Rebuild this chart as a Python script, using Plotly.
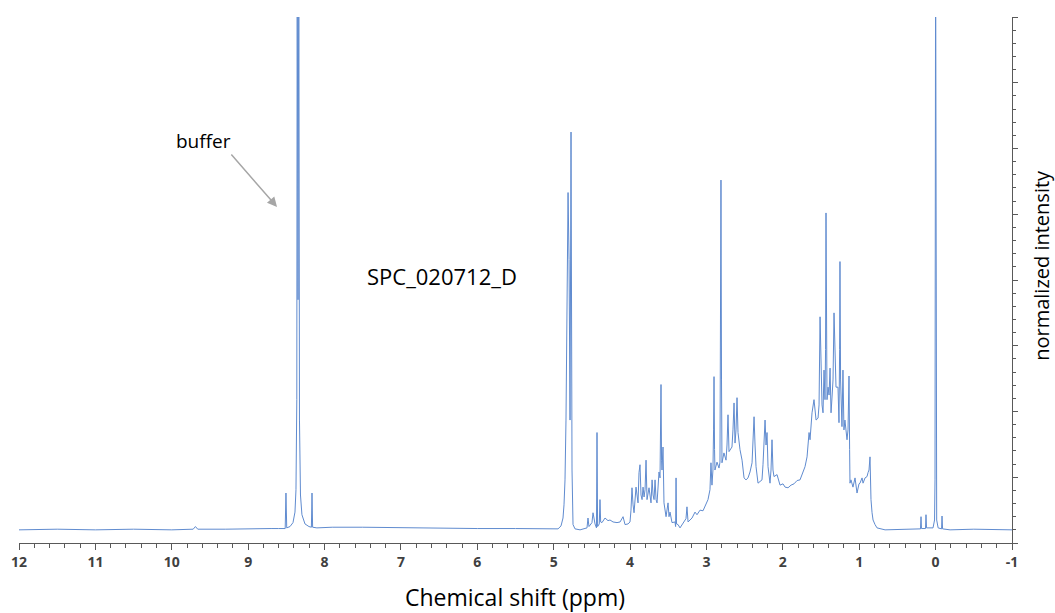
import plotly.graph_objects as go

ppm = [
    12.0, 11.5, 11.0, 10.5, 10.0, 9.72, 9.69, 9.66, 9.3, 9.0, 8.7, 8.6,
    8.531, 8.515, 8.505, 8.495, 8.452, 8.413, 8.387, 8.374, 8.363, 8.358, 8.347, 8.337,
    8.328, 8.315, 8.296, 8.256, 8.204, 8.172, 8.164, 8.156,
    8.1, 7.9, 7.5, 7.0, 6.5, 6.0, 5.5, 5.0,
    4.943, 4.904, 4.878, 4.865, 4.852, 4.839, 4.826, 4.812, 4.799, 4.786, 4.773, 4.760,
    4.747, 4.721,
    4.655, 4.564, 4.551, 4.538, 4.499, 4.485, 4.459, 4.440, 4.433, 4.425, 4.403, 4.394,
    4.385, 4.368, 4.328, 4.289, 4.263, 4.223, 4.171, 4.131, 4.092, 4.066, 4.027, 4.001,
    3.988, 3.975, 3.961, 3.948, 3.922, 3.909, 3.896, 3.883, 3.870, 3.857, 3.843, 3.830,
    3.817, 3.804, 3.791, 3.778, 3.752, 3.726, 3.712, 3.699, 3.686, 3.673, 3.660, 3.647,
    3.621, 3.608, 3.600, 3.595, 3.588, 3.582, 3.569, 3.561, 3.556, 3.529, 3.503, 3.490,
    3.477, 3.451, 3.412, 3.404, 3.398, 3.392, 3.372, 3.346, 3.307, 3.268, 3.255, 3.241,
    3.189, 3.150, 3.124, 3.084, 3.045, 3.019, 2.980, 2.954, 2.941, 2.928, 2.915, 2.907,
    2.901, 2.894, 2.889, 2.862, 2.836, 2.823, 2.815, 2.810, 2.803, 2.797, 2.771, 2.744,
    2.731, 2.718, 2.705, 2.692, 2.666, 2.653, 2.639, 2.626, 2.613, 2.600, 2.587, 2.561,
    2.534, 2.508, 2.482, 2.456, 2.430, 2.403, 2.390, 2.377, 2.364, 2.351, 2.325, 2.299,
    2.273, 2.260, 2.247, 2.233, 2.220, 2.207, 2.194, 2.168, 2.155, 2.142, 2.129, 2.116,
    2.076, 2.037, 1.998, 1.971, 1.932, 1.893, 1.854, 1.814, 1.775, 1.736, 1.710, 1.683,
    1.657, 1.644, 1.618, 1.592, 1.579, 1.565, 1.539, 1.526, 1.513, 1.500, 1.487, 1.474,
    1.461, 1.448, 1.441, 1.435, 1.427, 1.422, 1.408, 1.395, 1.382, 1.369, 1.356, 1.343,
    1.330, 1.317, 1.304, 1.278, 1.265, 1.257, 1.252, 1.244, 1.239, 1.226, 1.213, 1.200,
    1.187, 1.160, 1.147, 1.139, 1.134, 1.126, 1.121, 1.108, 1.082, 1.055, 1.029, 1.003,
    0.990, 0.963, 0.950, 0.924, 0.898, 0.885, 0.872, 0.859, 0.846, 0.832, 0.819, 0.793,
    0.767, 0.662, 0.466, 0.270, 0.198, 0.191, 0.185, 0.132, 0.126, 0.119,
    0.034, 0.014, 0.008, 0.0, -0.008, -0.014, -0.033, -0.078, -0.084, -0.091,
    -0.189, -0.5, -1.0,
]
intensity = [
    0.0, 0.01, 0.0, 0.01, 0.0, 0.01, 0.05, 0.01, 0.01, 0.02, 0.02, 0.02,
    0.015, 0.02, 0.56, 0.03, 0.05, 0.11, 0.27, 0.61, 1.98, 9.0, 3.5, 9.0,
    1.67, 0.53, 0.23, 0.09, 0.05, 0.04, 0.56, 0.04,
    0.03, 0.04, 0.04, 0.03, 0.03, 0.02, 0.02, 0.01,
    0.015, 0.06, 0.18, 0.38, 0.76, 1.67, 3.50, 5.13, 4.11, 1.67, 6.05, 0.91,
    0.08, 0.015,
    0.0, 0.03, 0.18, 0.05, 0.11, 0.26, 0.09, 0.03, 1.48, 0.05, 0.09, 0.46,
    0.12, 0.11, 0.18, 0.14, 0.15, 0.12, 0.11, 0.12, 0.20, 0.08, 0.09, 0.12,
    0.30, 0.64, 0.38, 0.26, 0.65, 0.49, 0.41, 0.87, 0.99, 0.53, 0.46, 0.65,
    0.50, 0.61, 1.06, 0.46, 0.64, 0.41, 0.76, 0.53, 0.46, 0.76, 0.46, 0.41,
    0.88, 0.79, 1.37, 2.21, 1.06, 0.91, 1.26, 0.53, 0.41, 0.20, 0.41, 0.20,
    0.27, 0.11, 0.12, 0.05, 0.79, 0.09, 0.08, 0.03, 0.11, 0.17, 0.35, 0.12,
    0.18, 0.27, 0.23, 0.30, 0.29, 0.35, 0.46, 0.61, 1.02, 0.68, 0.91, 1.52,
    2.33, 1.22, 0.91, 1.03, 0.94, 1.03, 3.50, 5.32, 2.28, 1.02, 1.17, 1.06,
    1.29, 1.75, 1.19, 1.22, 1.26, 1.52, 1.93, 1.32, 1.52, 2.01, 1.48, 1.22,
    1.06, 0.79, 0.76, 0.79, 0.88, 1.02, 1.29, 1.72, 1.29, 0.96, 0.71, 0.73,
    0.76, 0.99, 1.32, 1.67, 1.29, 1.48, 0.96, 0.71, 0.91, 1.37, 0.91, 0.81,
    0.84, 0.68, 0.70, 0.65, 0.64, 0.68, 0.70, 0.75, 0.76, 0.88, 0.96, 1.11,
    1.48, 1.37, 1.78, 1.98, 1.83, 1.67, 1.70, 1.90, 3.24, 2.17, 1.90, 1.78,
    2.43, 1.98, 2.74, 4.82, 2.74, 1.98, 2.17, 2.05, 2.46, 1.78, 2.02, 2.28,
    3.30, 2.43, 2.17, 2.17, 1.63, 2.74, 4.08, 2.28, 1.98, 1.57, 2.43, 1.52,
    1.67, 1.37, 1.52, 1.98, 2.34, 1.22, 0.71, 0.76, 0.65, 0.79, 0.56, 0.70,
    0.71, 0.79, 0.71, 0.79, 0.81, 0.87, 0.91, 1.11, 0.46, 0.26, 0.15, 0.08,
    0.03, 0.0, 0.01, 0.015, 0.015, 0.20, 0.02, 0.02, 0.23, 0.03,
    0.03, 0.15, 0.76, 9.0, 0.76, 0.15, 0.03, 0.015, 0.21, 0.015,
    0.0, 0.01, 0.0,
]

x_tick_vals = list(range(12, -2, -1))
x_tick_text = [str(v) for v in x_tick_vals]

FONT = "Open Sans"
AXIS_COLOR = "#595959"
LINE_COLOR = "#4F7FCB"

fig = go.Figure()
fig.add_trace(go.Scatter(
    x=ppm, y=intensity, mode="lines",
    line=dict(color=LINE_COLOR, width=1),
    opacity=0.9,
    showlegend=False, hoverinfo="skip",
))

fig.update_layout(
    width=1055, height=613,
    margin=dict(l=19, r=43, t=17, b=70, autoexpand=False),
    paper_bgcolor="white", plot_bgcolor="white",
    font=dict(family=FONT, color="black"),
    xaxis=dict(
        range=[12, -1], autorange=False, automargin=False,
        tickmode="array", tickvals=x_tick_vals, ticktext=x_tick_text,
        ticks="outside", ticklen=6, tickwidth=1, tickcolor=AXIS_COLOR,
        minor=dict(dtick=0.2, ticks="outside", ticklen=4, tickwidth=1, tickcolor=AXIS_COLOR),
        showline=True, linecolor=AXIS_COLOR, linewidth=1,
        showgrid=False, zeroline=False,
        tickfont=dict(family=FONT, size=14, color="#404040", weight="bold"),
    ),
    yaxis=dict(
        range=[-0.2, 7.8], autorange=False, automargin=False, side="right",
        tick0=-0.2, dtick=1,
        ticks="outside", ticklen=5, tickwidth=1, tickcolor=AXIS_COLOR,
        minor=dict(dtick=0.2, ticks="outside", ticklen=3, tickwidth=1, tickcolor=AXIS_COLOR),
        showline=True, linecolor=AXIS_COLOR, linewidth=1,
        showgrid=False, zeroline=False, showticklabels=False,
    ),
)

# Axis titles
fig.add_annotation(
    x=0.4995, y=-0.1030, xref="paper", yref="paper", text="Chemical shift (ppm)",
    showarrow=False, xanchor="center", yanchor="middle",
    font=dict(family=FONT, size=23, color="black"),
)
fig.add_annotation(
    x=1.0290, y=0.5285, xref="paper", yref="paper", text="normalized intensity",
    showarrow=False, textangle=-90, xanchor="center", yanchor="middle",
    font=dict(family=FONT, size=20, color="black"),
)

fig.add_annotation(
    x=8.622, y=4.91, xref="x", yref="y", text="", showarrow=True,
    ax=-47, ay=-54, arrowhead=2, arrowsize=1.3, arrowwidth=1.5, arrowcolor="#A6A6A6",
    standoff=0, startstandoff=0,
)
fig.add_annotation(
    x=9.591, y=5.92, xref="x", yref="y", text="buffer", showarrow=False,
    font=dict(family=FONT, size=19, color="black"),
)
fig.add_annotation(
    x=6.462, y=3.86, xref="x", yref="y", text="SPC_020712_D", showarrow=False,
    font=dict(family=FONT, size=22, color="black"),
)

fig.write_html("out.html")
